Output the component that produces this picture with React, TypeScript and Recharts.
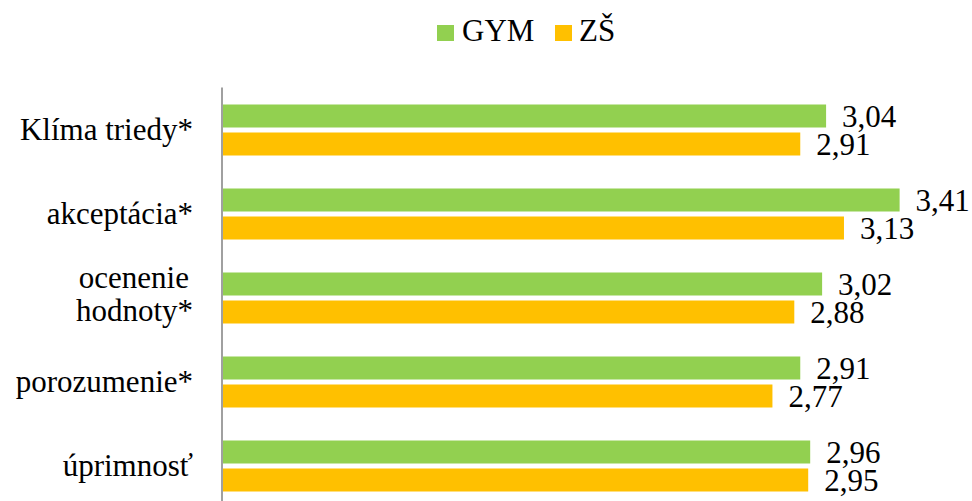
import { BarChart, Bar, XAxis, YAxis, LabelList } from "recharts"

const categories = ["Klíma triedy*", "akceptácia*", "ocenenie\nhodnoty*", "porozumenie*", "úprimnosť"]
const gymValues = [3.04, 3.41, 3.02, 2.91, 2.96]
const zsValues = [2.91, 3.13, 2.88, 2.77, 2.95]
const seriesNames = ["GYM", "ZŠ"]

const GREEN = "#92D050"
const ORANGE = "#FFC000"
const FONT = "Liberation Serif, DejaVu Serif, serif"

const chartData = categories.map((name, i) => ({
  name,
  gym: gymValues[i],
  zs: zsValues[i],
}))

const formatValue = (v: any) => Number(v).toFixed(2).replace(".", ",")

function CategoryTick(props: any) {
  const { x, y, payload } = props
  const lines = String(payload.value).split("\n")
  if (lines.length === 1) {
    return (
      <text x={x} y={y + 10} textAnchor="end" fontFamily={FONT} fontSize={31} fill="#000">
        {lines[0]}
      </text>
    )
  }
  return (
    <text textAnchor="end" fontFamily={FONT} fontSize={31} fill="#000">
      <tspan x={x - 4} y={y - 10}>{lines[0]}</tspan>
      <tspan x={x} y={y + 23}>{lines[1]}</tspan>
    </text>
  )
}

// legend drawn as a small svg overlay above the chart
function ChartLegend() {
  return (
    <svg width={972} height={60} style={{ position: "absolute", left: 0, top: 0 }}>
      <rect x={437} y={25} width={17} height={16} fill={GREEN} />
      <text x={462} y={41} fontFamily={FONT} fontSize={31} fill="#000">{seriesNames[0]}</text>
      <rect x={555} y={25} width={17} height={16} fill={ORANGE} />
      <text x={579} y={41} fontFamily={FONT} fontSize={31} fill="#000">{seriesNames[1]}</text>
    </svg>
  )
}

export default function App() {
  return (
    <div style={{ position: "absolute", left: 0, top: 0, width: 972, height: 501, overflow: "hidden", background: "#fff" }}>
      <BarChart
        width={972}
        height={510}
        data={chartData}
        layout="vertical"
        margin={{ top: 87.5, right: 54.5, bottom: 2.5, left: 0 }}
        barSize={23}
        barGap={5}
      >
        <XAxis type="number" domain={[0, 3.5]} hide />
        <YAxis
          type="category"
          dataKey="name"
          width={222}
          tickSize={0}
          tickMargin={29}
          tickLine={false}
          axisLine={{ stroke: "#A0A0A0", strokeWidth: 2 }}
          tick={<CategoryTick />}
          interval={0}
        />
        <Bar dataKey="gym" name={seriesNames[0]} fill={GREEN} isAnimationActive={false}>
          <LabelList dataKey="gym" position="right" offset={16} formatter={formatValue} fontFamily={FONT} fontSize={31} fill="#000" />
        </Bar>
        <Bar dataKey="zs" name={seriesNames[1]} fill={ORANGE} isAnimationActive={false}>
          <LabelList dataKey="zs" position="right" offset={16} formatter={formatValue} fontFamily={FONT} fontSize={31} fill="#000" />
        </Bar>
      </BarChart>
      <ChartLegend />
    </div>
  )
}
